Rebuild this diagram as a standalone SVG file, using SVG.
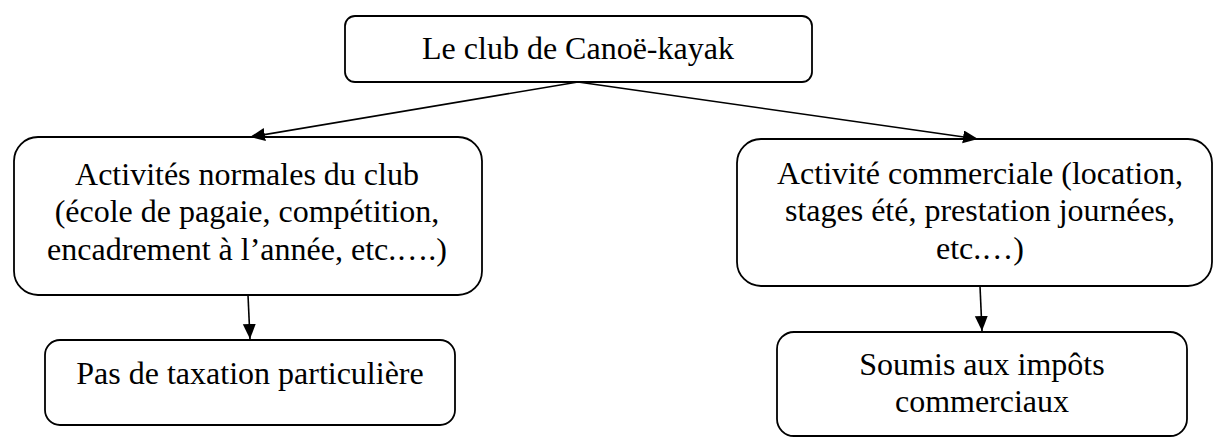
<svg xmlns="http://www.w3.org/2000/svg" width="1213" height="438" viewBox="0 0 1213 438">
<style>
.box{fill:#fff;stroke:#000;stroke-width:1.8}
.t{font-family:"Liberation Serif","Times New Roman",serif;font-size:32px;fill:#000;text-anchor:middle}
.c{stroke:#000;stroke-width:1.6;fill:none;marker-end:url(#ah)}
</style>
<defs>
<marker id="ah" markerUnits="userSpaceOnUse" markerWidth="16" markerHeight="14" refX="15" refY="6.5" orient="auto">
<path d="M0,0 L15,6.5 L0,13 z" fill="#000"/>
</marker>
</defs>
<rect width="1213" height="438" fill="#fff"/>
<g id="n-club">
<rect class="box" x="345" y="16" width="467" height="66" rx="10"/>
<text class="t" x="578" y="59">Le club de Canoë-kayak</text>
</g>
<g id="n-normales">
<rect class="box" x="14" y="137" width="468" height="158" rx="24"/>
<text class="t" x="247" y="185">Activités normales du club</text>
<text class="t" x="247" y="222">(école de pagaie, compétition,</text>
<text class="t" x="247" y="260">encadrement à l’année, etc.….)</text>
</g>
<g id="n-commerciale">
<rect class="box" x="737" y="139" width="475" height="147" rx="24"/>
<text class="t" x="980" y="184">Activité commerciale (location,</text>
<text class="t" x="980" y="221">stages été, prestation journées,</text>
<text class="t" x="980" y="259">etc.…)</text>
</g>
<g id="n-pas-taxation">
<rect class="box" x="45" y="340" width="410" height="85" rx="15"/>
<text class="t" x="250" y="384">Pas de taxation particulière</text>
</g>
<g id="n-soumis">
<rect class="box" x="777" y="332" width="410" height="104" rx="17"/>
<text class="t" x="982" y="375">Soumis aux impôts</text>
<text class="t" x="982" y="412">commerciaux</text>
</g>
<g id="connectors">
<line class="c" x1="578" y1="82" x2="250" y2="137"/>
<line class="c" x1="578" y1="82" x2="978" y2="139"/>
<line class="c" x1="248" y1="295" x2="250" y2="339"/>
<line class="c" x1="980" y1="286" x2="982" y2="331"/>
</g>
</svg>
